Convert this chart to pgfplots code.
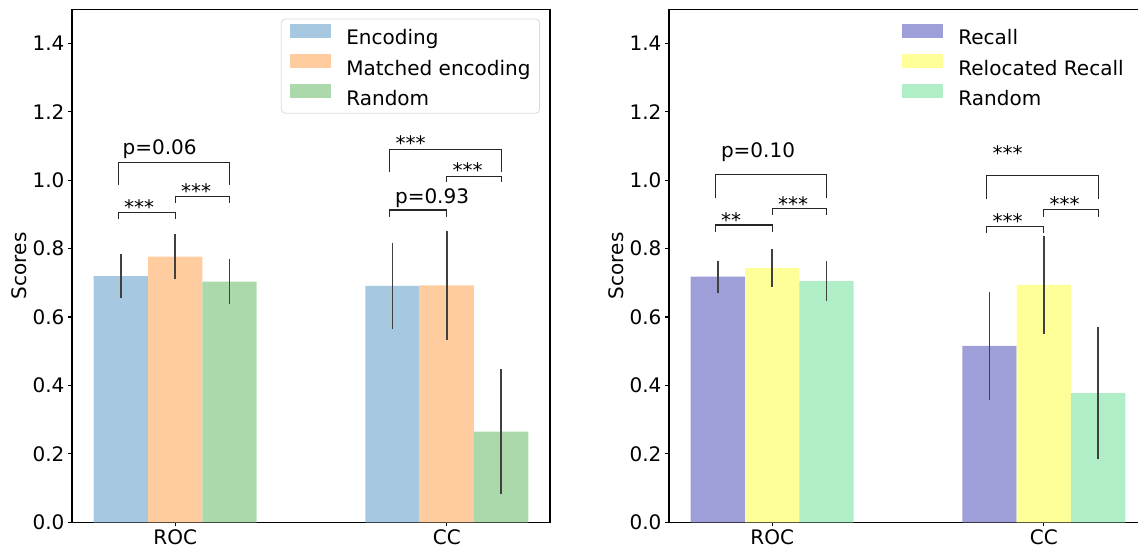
\documentclass[border=0pt]{standalone}
\usepackage{fontspec}
\setmainfont{DejaVu Sans}
\usepackage{pgfplots}
\pgfplotsset{compat=1.18}
\definecolor{encC}{RGB}{166,201,225}
\definecolor{matC}{RGB}{255,204,159}
\definecolor{rndC}{RGB}{171,217,171}
\definecolor{recC}{RGB}{158,158,216}
\definecolor{relC}{RGB}{255,255,153}
\definecolor{rndD}{RGB}{176,238,200}
\definecolor{errC}{RGB}{64,64,64}

\pgfplotstableread{
x y e
-0.2 0.720 0.064
0.8 0.691 0.127
}\encT
\pgfplotstableread{
x y e
0.0 0.777 0.067
1.0 0.693 0.159
}\matT
\pgfplotstableread{
x y e
0.2 0.704 0.067
1.2 0.265 0.183
}\rndT
\pgfplotstableread{
x y e
-0.2 0.718 0.047
0.8 0.516 0.158
}\recT
\pgfplotstableread{
x y e
0.0 0.744 0.055
1.0 0.694 0.142
}\relT
\pgfplotstableread{
x y e
0.2 0.705 0.058
1.2 0.378 0.194
}\rndRT

\tikzset{brkline/.style={line width=0.6pt, black!85}}
\pgfplotsset{
  panel/.style={
    scale only axis, width=239pt, height=256.5pt, anchor=south west,
    xmin=-0.38, xmax=1.38, ymin=0, ymax=1.5,
    xtick={0,1}, xticklabels={ROC,CC},
    ytick={0,0.2,0.4,0.6,0.8,1.0,1.2,1.4},
    /pgf/number format/fixed, /pgf/number format/fixed zerofill,
    /pgf/number format/precision=1, /pgf/number format/assume math mode=true,
    yticklabel style={inner xsep=1.6pt},
    xticklabel style={inner ysep=1.6pt},
    tick pos=left, tick align=outside, major tick length=2pt,
    tick style={line width=0.6pt, black},
    axis line style={line width=0.6pt},
    ylabel={Scores},
    ylabel style={at={(axis description cs:-0.111,0.5)}, anchor=center},
    legend cell align=left,
    legend image code/.code={\fill[##1, sharp corners] (0pt,0.5pt) rectangle (20.5pt,7.5pt);},
    legend style={font=\normalsize, inner xsep=4.5pt, inner ysep=2.5pt,
      row sep=3.1pt, column sep=7.5pt,
      nodes={inner sep=0pt, text height=7.5pt, text depth=1.5pt}},
    clip=false,
  },
  bars/.style={ybar, bar width=0.2, bar shift=0pt, draw=none, fill=#1,
    error bars/.cd, y dir=both, y explicit, error mark=none,
    error bar style={errC, line width=0.75pt}},
}
\newcommand{\brk}[4]{\draw[brkline] (axis cs:#1,#4) -- (axis cs:#1,#3) -- (axis cs:#2,#3) -- (axis cs:#2,#4);}
\newcommand{\lab}[3]{\node[anchor=base west, inner sep=0pt] at (axis cs:#1,#2) {#3};}

\begin{document}
\begin{tikzpicture}
\useasboundingbox (0,0) rectangle (569pt,275pt);
\begin{axis}[panel, at={(36pt,13.85pt)},
  legend style={at={(0.979,0.982)}, anchor=north east, draw=black!15, rounded corners=2pt, fill=white}]
\addplot[bars=encC] table[x=x, y=y, y error=e] {\encT};
\addlegendentry{Encoding}
\addplot[bars=matC] table[x=x, y=y, y error=e] {\matT};
\addlegendentry{Matched encoding}
\addplot[bars=rndC] table[x=x, y=y, y error=e] {\rndT};
\addlegendentry{Random}
\brk{-0.21}{0}{0.906}{0.886}
\lab{-0.19}{0.899}{***}
\brk{0}{0.2}{0.952}{0.935}
\lab{0.02}{0.946}{***}
\brk{-0.21}{0.2}{1.053}{0.987}
\lab{-0.195}{1.074}{p=0.06}
\brk{0.79}{1.0}{0.913}{0.894}
\lab{0.808}{0.933}{p=0.93}
\brk{1.0}{1.2}{1.011}{0.994}
\lab{1.02}{1.007}{***}
\brk{0.79}{1.2}{1.091}{1.024}
\lab{0.81}{1.087}{***}
\end{axis}
\begin{axis}[panel, at={(334.5pt,13.85pt)},
  legend style={at={(0.4686,0.982)}, anchor=north west, draw=none, fill=none}]
\addplot[bars=recC] table[x=x, y=y, y error=e] {\recT};
\addlegendentry{Recall}
\addplot[bars=relC] table[x=x, y=y, y error=e] {\relT};
\addlegendentry{Relocated Recall}
\addplot[bars=rndD] table[x=x, y=y, y error=e] {\rndRT};
\addlegendentry{Random}
\brk{-0.21}{0}{0.869}{0.849}
\lab{-0.19}{0.863}{**}
\brk{0}{0.2}{0.917}{0.899}
\lab{0.02}{0.910}{***}
\brk{-0.21}{0.2}{1.018}{0.949}
\lab{-0.19}{1.068}{p=0.10}
\brk{0.79}{1.0}{0.866}{0.845}
\lab{0.81}{0.859}{***}
\brk{1.0}{1.2}{0.914}{0.894}
\lab{1.02}{0.908}{***}
\brk{0.79}{1.2}{1.014}{0.945}
\lab{0.81}{1.058}{***}
\end{axis}
\end{tikzpicture}
\end{document}
